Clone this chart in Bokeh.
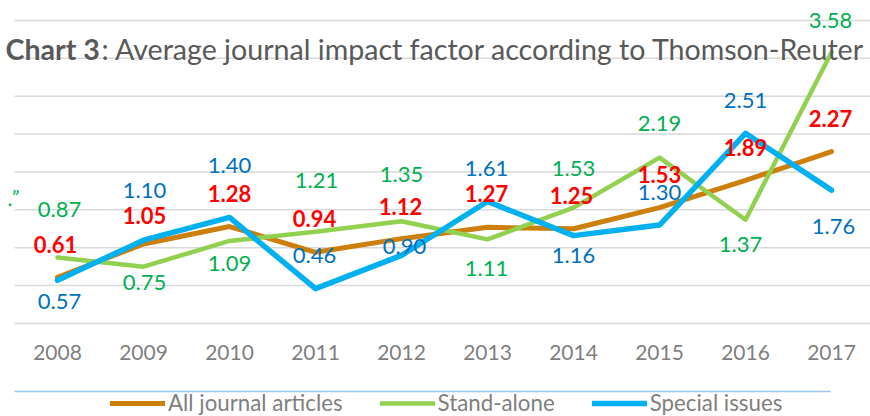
from bokeh.plotting import figure
from bokeh.models import (Range1d, Legend, LegendItem, Label, ColumnDataSource)
from bokeh.core.properties import value
from bokeh.embed import file_html
from bokeh.resources import INLINE

# ---------------- data ----------------
years = ["2008", "2009", "2010", "2011", "2012", "2013", "2014", "2015", "2016", "2017"]
all_articles = [0.61, 1.05, 1.28, 0.94, 1.12, 1.27, 1.25, 1.53, 1.89, 2.27]
stand_alone = [0.87, 0.75, 1.09, 1.21, 1.35, 1.11, 1.53, 2.19, 1.37, 3.58]
special_issues = [0.57, 1.10, 1.40, 0.46, 0.90, 1.61, 1.16, 1.30, 2.51, 1.76]
y_ticks = [0, 0.5, 1.0, 1.5, 2.0, 2.5, 3.0, 3.5, 4.0]
series_names = ["All journal articles", "Stand-alone", "Special issues"]
title_bold = "Chart 3"
title_rest = ": Average journal impact factor according to Thomson-Reuter"
fragment_text = ".\u201d"

# ---------------- layout (data-space anchors, screen-px offsets) ----------------
X_START, X_END = -0.6628, 9.453      # visible x window (category index units)
Y_START, Y_END = -1.228, 4.264       # visible y window (value units)
PLOT_LEFT = -0.5                      # left edge of plotting area
RULE_RIGHT = 8.99                     # end of document rule under the labels
YEAR_LABEL_Y = -0.383                 # row of the category labels
RULE_Y = -0.898                       # document rule
TITLE_X, TITLE_Y = -0.6047, 3.63

all_dx = [-2, 1, 0, -1, -1, -1, -2, 0, 0, -1]
all_dy = [-33, -28, -33, -34, -32, -34, -33, -33, -33, -33]
stand_dx = [2, 1, 0, 1, 0, -1, 0, 0, -5, -1]
stand_dy = [-48, 16, 23, -51, -47, 29, -39, -34, 25, -32]
spec_dx = [2, 1, 0, -1, 3, -1, 0, 0, 0, 2]
spec_dy = [21, -50, -52, -33, -9, -33, 20, -33, -33, 36]

# ---------------- style ----------------
FONT = "Lato"
C_ALL, C_STAND, C_SPEC = "#CC7F0A", "#92D050", "#00B0F0"
L_ALL, L_STAND, L_SPEC = "#FF0000", "#00B050", "#0070C0"
GRID = "#D9D9D9"
AXIS_TXT = "#7F7F7F"
TITLE_TXT = "#595959"
RULE = "#9DC3E6"

x = list(range(len(years)))

p = figure(width=870, height=416, output_backend="svg", toolbar_location=None,
           x_range=Range1d(X_START, X_END), y_range=Range1d(Y_START, Y_END),
           x_axis_location=None, y_axis_location=None,
           min_border_left=0, min_border_right=0, min_border_top=0, min_border_bottom=0)
p.outline_line_color = None
p.background_fill_color = "white"
p.border_fill_color = "white"
p.xgrid.visible = False
p.ygrid.visible = False

# horizontal gridlines at the value ticks
p.segment(x0=[PLOT_LEFT] * len(y_ticks), x1=[X_END] * len(y_ticks), y0=y_ticks, y1=y_ticks,
          line_color=GRID, line_width=1.5)

# category labels (x scale positions)
p.text(x=x, y=[YEAR_LABEL_Y] * len(years), text=years, text_font=value(FONT),
       text_font_size="21px", text_color=AXIS_TXT, text_align="center", text_baseline="middle")

# document rule under the axis labels
p.segment(x0=[PLOT_LEFT], x1=[RULE_RIGHT], y0=[RULE_Y], y1=[RULE_Y],
          line_color=RULE, line_width=1.5)

# lines
r_all = p.line(x, all_articles, line_color=C_ALL, line_width=5, line_cap="round", line_join="round")
r_stand = p.line(x, stand_alone, line_color=C_STAND, line_width=4.5, line_cap="round", line_join="round")
r_spec = p.line(x, special_issues, line_color=C_SPEC, line_width=5.5, line_cap="round", line_join="round")

# data labels
def add_labels(vals, dx, dy, color, bold):
    src = ColumnDataSource(dict(x=x, y=vals, t=["%.2f" % v for v in vals], dx=dx, dy=dy))
    p.text(x="x", y="y", text="t", x_offset="dx", y_offset="dy", source=src,
           text_font=value(FONT), text_font_size="22px",
           text_font_style="bold" if bold else "normal",
           text_color=color, text_align="center", text_baseline="middle")

add_labels(stand_alone, stand_dx, stand_dy, L_STAND, False)
add_labels(special_issues, spec_dx, spec_dy, L_SPEC, False)
add_labels(all_articles, all_dx, all_dy, L_ALL, True)

# title (overlapping the plot, like the source)
p.add_layout(Label(x=TITLE_X, y=TITLE_Y, text=title_bold, text_font=FONT, text_font_size="28.6px",
                   text_font_style="bold", text_color=TITLE_TXT, text_baseline="alphabetic"))
p.add_layout(Label(x=TITLE_X, y=TITLE_Y, x_offset=96, text=title_rest, text_font=FONT,
                   text_font_size="28.6px", text_color=TITLE_TXT, text_baseline="alphabetic"))

# cut-off fragment at left edge
p.add_layout(Label(x=-0.4535, y=1.66, text=fragment_text, text_font=FONT, text_font_size="22px",
                   text_font_style="italic", text_color=L_STAND, text_align="right",
                   text_baseline="alphabetic"))

legend = Legend(items=[LegendItem(label=series_names[0], renderers=[r_all]),
                       LegendItem(label=series_names[1], renderers=[r_stand]),
                       LegendItem(label=series_names[2], renderers=[r_spec])],
                orientation="horizontal", location=(110, 0),
                glyph_width=55, glyph_height=20, label_standoff=3, spacing=37,
                padding=0, margin=0, border_line_color=None, background_fill_alpha=0,
                label_text_font=FONT, label_text_font_size="22.3px", label_text_color=AXIS_TXT)
p.add_layout(legend, "center")

open("out.html", "w").write(file_html(p, INLINE))
